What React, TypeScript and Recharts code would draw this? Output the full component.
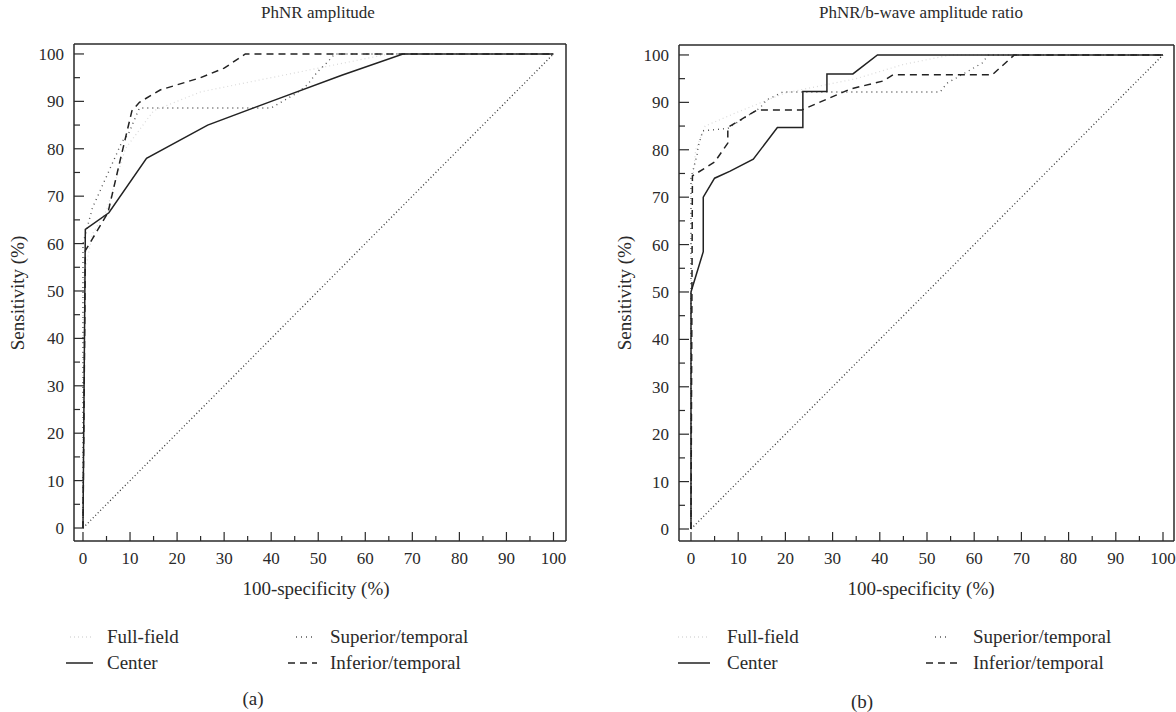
import React from "react";
import { LineChart, Line, XAxis, YAxis } from "recharts";

type Pt = [number, number];

// axis ticks (every 5 drawn, labels every 10)
const axisTicks = [0, 5, 10, 15, 20, 25, 30, 35, 40, 45, 50, 55, 60, 65, 70, 75, 80, 85, 90, 95, 100];

// chance line
const chance: Pt[] = [[0, 0], [100, 100]];

// (a) PhNR amplitude
const ampFull: Pt[] = [[0, 0], [0, 52], [2, 62], [5, 67], [9, 80], [15, 88], [25, 92], [40, 95], [55, 98], [65, 100], [100, 100]];
const ampCenter: Pt[] = [[0, 0], [0.5, 63], [5.5, 66.5], [13.5, 78], [26.5, 85], [40, 90], [55, 95.5], [68, 100], [100, 100]];
const ampSuperior: Pt[] = [[0, 0], [0, 60], [2, 67.5], [8.3, 81.5], [9.6, 83], [12, 88.6], [40, 88.6], [45.5, 91.8], [47.7, 93.5], [49.8, 96.2], [52, 98.3], [53.5, 100], [100, 100]];
const ampInferior: Pt[] = [[0, 0], [0.5, 58.5], [2, 61], [5.3, 66.5], [8, 78], [10.4, 88], [12, 89.8], [16.4, 92.4], [25, 95], [30, 97], [34.5, 100], [100, 100]];

// (b) PhNR/b-wave amplitude ratio
const ratioFull: Pt[] = [[0, 0], [0, 70], [1, 80], [3, 85], [10, 88], [20, 92], [35, 95], [45, 98], [55, 100], [100, 100]];
const ratioCenter: Pt[] = [[0, 0], [0, 50], [2.6, 58.5], [2.6, 70], [5, 74], [8.3, 75.5], [13.2, 78], [18.3, 84.7], [23.7, 84.7], [23.7, 92.3], [28.8, 92.3], [28.8, 96], [34.3, 96], [39.5, 100], [100, 100]];
const ratioSuperior: Pt[] = [[0, 0], [0, 74], [1.3, 79], [1.5, 80.6], [2.5, 84], [7.8, 84.5], [14.6, 88.8], [16, 90.5], [19.5, 92.2], [52.8, 92.2], [54.2, 94], [61.7, 98.3], [63, 100], [100, 100]];
const ratioInferior: Pt[] = [[0, 0], [0.3, 74.5], [5, 77.4], [7.8, 81.4], [7.8, 84.7], [14, 88.4], [23.5, 88.4], [33.7, 92.8], [40.7, 94.5], [42.8, 95.8], [63.8, 95.8], [68.5, 100], [100, 100]];

const FONT = '"Liberation Serif", "DejaVu Serif", serif';
const INK = "#2a2a2a";

const STYLES = {
  full: { name: "Full-field", color: "#dadada", dash: "1 3", width: 1.2 },
  center: { name: "Center", color: "#222", dash: undefined, width: 1.5 },
  superior: { name: "Superior/temporal", color: "#555", dash: "1 4", width: 1.4 },
  inferior: { name: "Inferior/temporal", color: "#222", dash: "7 5", width: 1.5 },
};

const toRows = (pts: Pt[]) => pts.map(([x, y]) => ({ x, y }));

function XTick(props: any) {
  const { x, y, payload } = props;
  const major = payload.value % 10 === 0;
  return (
    <g>
      <line x1={x} x2={x} y1={y} y2={y - (major ? 9 : 5)} stroke={INK} strokeWidth={1.2} />
      {major && (
        <text x={x} y={y + 23} textAnchor="middle" fontFamily={FONT} fontSize={17} fill={INK}>
          {payload.value}
        </text>
      )}
    </g>
  );
}

function YTick(props: any) {
  const { x, y, payload } = props;
  const major = payload.value % 10 === 0;
  return (
    <g>
      <line x1={x} x2={x + (major ? 10 : 6)} y1={y} y2={y} stroke={INK} strokeWidth={1.2} />
      {major && (
        <text x={x - 10} y={y} dy="0.35em" textAnchor="end" fontFamily={FONT} fontSize={17} fill={INK}>
          {payload.value}
        </text>
      )}
    </g>
  );
}

interface PanelProps {
  left: number;
  width: number;
  margin: { top: number; left: number; right: number; bottom: number };
  xDomain: [number, number];
  yDomain: [number, number];
  full: Pt[];
  center: Pt[];
  superior: Pt[];
  inferior: Pt[];
}

function RocPanel({ left, width, margin, xDomain, yDomain, full, center, superior, inferior }: PanelProps) {
  const frame = { stroke: INK, strokeWidth: 1.5 };
  const series: Array<[keyof typeof STYLES, Pt[]]> = [
    ["full", full],
    ["superior", superior],
    ["inferior", inferior],
    ["center", center],
  ];
  // axes need a size of at least 1px to be drawn, so the margins below are 1px smaller
  const m = { top: margin.top - 1, left: margin.left - 1, right: margin.right - 1, bottom: margin.bottom - 1 };
  return (
    <div style={{ position: "absolute", left, top: 0 }}>
      <LineChart width={width} height={600} margin={m}>
        <XAxis
          dataKey="x"
          type="number"
          domain={xDomain}
          allowDataOverflow
          ticks={axisTicks}
          interval={0}
          tickSize={0}
          tickMargin={0}
          tickLine={false}
          height={1}
          axisLine={frame}
          tick={<XTick />}
        />
        <XAxis xAxisId="top" orientation="top" type="number" domain={xDomain} height={1} tick={false} tickLine={false} axisLine={frame} />
        <YAxis
          dataKey="y"
          type="number"
          domain={yDomain}
          allowDataOverflow
          ticks={axisTicks}
          interval={0}
          tickSize={0}
          tickMargin={0}
          tickLine={false}
          width={1}
          axisLine={frame}
          tick={<YTick />}
        />
        <YAxis yAxisId="right" orientation="right" type="number" domain={yDomain} width={1} tick={false} tickLine={false} axisLine={frame} />
        <Line
          data={toRows(chance)}
          dataKey="y"
          type="linear"
          stroke="#333"
          strokeWidth={1.3}
          strokeDasharray="1 2.5"
          dot={false}
          isAnimationActive={false}
        />
        {series.map(([key, pts]) => (
          <Line
            key={key}
            data={toRows(pts)}
            dataKey="y"
            name={STYLES[key].name}
            type="linear"
            stroke={STYLES[key].color}
            strokeWidth={STYLES[key].width}
            strokeDasharray={STYLES[key].dash}
            dot={false}
            isAnimationActive={false}
          />
        ))}
      </LineChart>
    </div>
  );
}

const textStyle: React.CSSProperties = {
  position: "absolute",
  fontFamily: FONT,
  color: INK,
  whiteSpace: "nowrap",
  lineHeight: "20px",
};

function Centered({ x, y, size, children, rotate }: { x: number; y: number; size: number; children: React.ReactNode; rotate?: boolean }) {
  return (
    <div style={{ ...textStyle, fontSize: size, left: x, top: y, transform: `translate(-50%, -50%)${rotate ? " rotate(-90deg)" : ""}` }}>
      {children}
    </div>
  );
}

function LegendItem({ x1, x2, textX, y, kind }: { x1: number; x2: number; textX: number; y: number; kind: keyof typeof STYLES }) {
  const s = STYLES[kind];
  return (
    <>
      <svg style={{ position: "absolute", left: x1, top: y - 5 }} width={x2 - x1} height={10}>
        <line x1={0} x2={x2 - x1} y1={5} y2={5} stroke={s.color === "#dadada" ? "#c8c8c8" : s.color} strokeWidth={s.width} strokeDasharray={s.dash} />
      </svg>
      <div style={{ ...textStyle, fontSize: 19, left: textX, top: y - 10 }}>{s.name}</div>
    </>
  );
}

export default function App() {
  return (
    <div style={{ position: "absolute", left: 0, top: 0, width: 1176, height: 712, background: "#fff", overflow: "hidden" }}>
      <RocPanel
        left={0}
        width={590}
        margin={{ top: 44, left: 74, right: 24, bottom: 59 }}
        xDomain={[-1.91, 102.66]}
        yDomain={[-2.74, 102.1]}
        full={ampFull}
        center={ampCenter}
        superior={ampSuperior}
        inferior={ampInferior}
      />
      <RocPanel
        left={600}
        width={576}
        margin={{ top: 45, left: 79, right: 2, bottom: 59 }}
        xDomain={[-2.54, 102.33]}
        yDomain={[-2.53, 102.1]}
        full={ratioFull}
        center={ratioCenter}
        superior={ratioSuperior}
        inferior={ratioInferior}
      />

      <Centered x={318} y={13} size={17}>PhNR amplitude</Centered>
      <Centered x={921} y={13} size={17}>PhNR/b-wave amplitude ratio</Centered>
      <Centered x={18} y={293} size={19} rotate>Sensitivity (%)</Centered>
      <Centered x={625} y={293} size={19} rotate>Sensitivity (%)</Centered>
      <Centered x={316} y={589} size={19}>100-specificity (%)</Centered>
      <Centered x={921} y={589} size={19}>100-specificity (%)</Centered>

      <LegendItem x1={70} x2={92} textX={107} y={637} kind="full" />
      <LegendItem x1={66} x2={93} textX={107} y={663} kind="center" />
      <LegendItem x1={296} x2={316} textX={330} y={637} kind="superior" />
      <LegendItem x1={288} x2={317} textX={330} y={663} kind="inferior" />

      <LegendItem x1={678} x2={708} textX={727} y={637} kind="full" />
      <LegendItem x1={678} x2={710} textX={727} y={663} kind="center" />
      <LegendItem x1={935} x2={950} textX={973} y={637} kind="superior" />
      <LegendItem x1={926} x2={962} textX={973} y={663} kind="inferior" />

      <Centered x={253} y={699} size={19}>(a)</Centered>
      <Centered x={862} y={702} size={19}>(b)</Centered>
    </div>
  );
}
